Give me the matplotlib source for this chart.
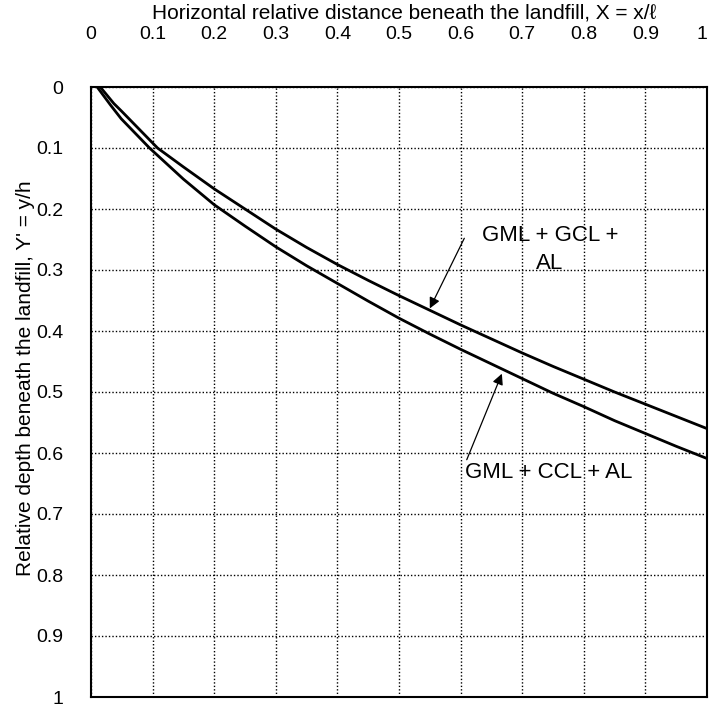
import matplotlib
matplotlib.use("Agg")
import matplotlib.pyplot as plt

plt.rcParams['font.family'] = ['Liberation Sans', 'DejaVu Sans']

# Data
x_gcl = [0.015, 0.037, 0.05, 0.108, 0.15, 0.2, 0.25, 0.3, 0.35, 0.4, 0.45, 0.5, 0.55,
         0.6, 0.65, 0.7, 0.75, 0.8, 0.85, 0.9, 0.95, 1.0]
y_gcl = [0.0, 0.027, 0.04, 0.1, 0.131, 0.167, 0.2, 0.233, 0.263, 0.291, 0.317, 0.342, 0.366,
         0.39, 0.413, 0.436, 0.458, 0.479, 0.5, 0.52, 0.54, 0.56]
x_ccl = [0.01, 0.032, 0.049, 0.095, 0.15, 0.2, 0.25, 0.3, 0.35, 0.4, 0.45, 0.5, 0.55,
         0.6, 0.65, 0.7, 0.75, 0.8, 0.85, 0.9, 0.95, 1.0]
y_ccl = [0.0, 0.03, 0.052, 0.1, 0.151, 0.193, 0.228, 0.262, 0.293, 0.322, 0.351, 0.379, 0.405,
         0.43, 0.454, 0.478, 0.502, 0.524, 0.547, 0.568, 0.589, 0.609]

xticks = [0, 0.1, 0.2, 0.3, 0.4, 0.5, 0.6, 0.7, 0.8, 0.9, 1]
xticklabels = ['0', '0.1', '0.2', '0.3', '0.4', '0.5', '0.6', '0.7', '0.8', '0.9', '1']
yticks = xticks
yticklabels = xticklabels

fig = plt.figure(figsize=(7.09, 7.04), dpi=100)
ax = fig.add_axes([91/709, 1 - 697/704, 616/709, 610/704])

ax.plot(x_gcl, y_gcl, color='black', lw=2)
ax.plot(x_ccl, y_ccl, color='black', lw=2)

ax.set_xlim(0, 1)
ax.set_ylim(1, 0)
ax.xaxis.tick_top()
ax.set_xticks(xticks)
ax.set_xticklabels(xticklabels)
ax.set_yticks(yticks)
ax.set_yticklabels(yticklabels)
ax.tick_params(axis='both', length=0, labelsize=14)
ax.tick_params(axis='x', pad=32)
ax.tick_params(axis='y', pad=20)
ax.get_xticklabels()[-1].set_ha('right')
ax.grid(True, color='black', linestyle=(0, (1, 1.5)), lw=1)
for s in ax.spines.values():
    s.set_linewidth(1.5)

fig.text(404/709, 1 - 13/704, 'Horizontal relative distance beneath the landfill, X = x/ℓ',
         fontsize=15, ha='center', va='center')
fig.text(26/709, 1 - 378/704, "Relative depth beneath the landfill, Y' = y/h",
         fontsize=15, ha='center', va='center', rotation=90)

ap = dict(arrowstyle='-|>', color='black', lw=0.9, mutation_scale=16, shrinkA=0, shrinkB=0)
ax.annotate('', xy=(0.55, 0.363), xytext=(0.606, 0.248), arrowprops=ap)
ax.text(0.745, 0.266, 'GML + GCL +\nAL', ha='center', va='center', fontsize=16, linespacing=1.45)
ax.annotate('', xy=(0.667, 0.47), xytext=(0.61, 0.611), arrowprops=ap)
ax.text(0.607, 0.632, 'GML + CCL + AL', ha='left', va='center', fontsize=16)

fig.savefig('out.png', dpi=100)
